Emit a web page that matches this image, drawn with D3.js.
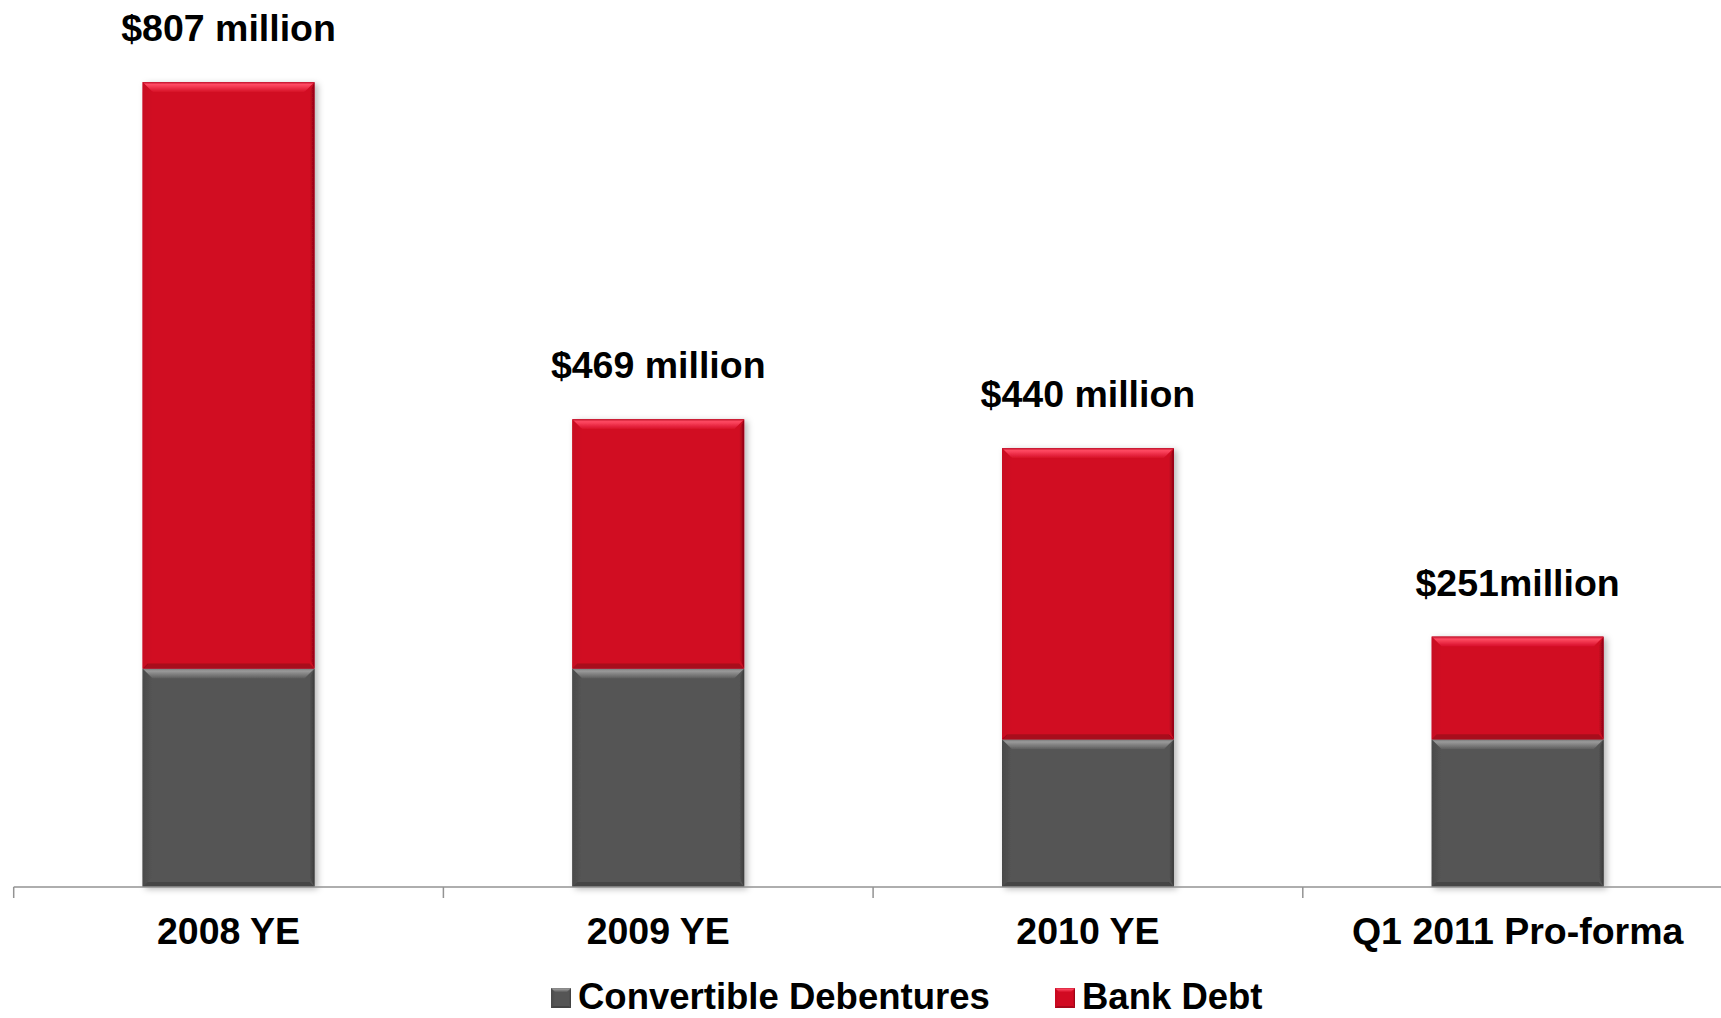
<!DOCTYPE html>
<html>
<head>
<meta charset="utf-8">
<script src="https://cdn.jsdelivr.net/npm/d3@7"></script>
<style>
  html, body { margin: 0; padding: 0; background: #ffffff; }
  svg { display: block; font-family: "Liberation Sans", Arial, sans-serif; }
</style>
</head>
<body>
<svg id="chart" width="1721" height="1018"></svg>
<script>
// ---- data ----
const categories = ["2008 YE", "2009 YE", "2010 YE", "Q1 2011 Pro-forma"];
const convertibleDebentures = [219, 219, 148, 148];
const bankDebt = [588, 250, 292, 103];
const totalLabels = ["$807 million", "$469 million", "$440 million", "$251million"];
const seriesNames = ["Convertible Debentures", "Bank Debt"];

// ---- layout ----
const W = 1721, H = 1018;
const axisY = 887;
const plotLeft = 13.7, step = 429.7;
const svg = d3.select("#chart");

const x = d3.scaleBand().domain(categories).range([plotLeft, plotLeft + step * categories.length]).paddingInner(0).paddingOuter(0);
const y = d3.scaleLinear().domain([0, 807]).range([axisY, 82]);
const barW = x.bandwidth() * 0.4;

const palette = {
  grey: { base: "#555555", topA: "#9a9a9a", topB: "#5c5c5c", side: "#4a4a4a", right: "#3c3c3c", bottom: "#444444" },
  red:  { base: "#d10a22", topA: "#ff4a63", topB: "#d60e27", side: "#c70820", right: "#8e0414", bottom: "#a8071b" }
};

const defs = svg.append("defs");
const f = defs.append("filter").attr("id", "shadow").attr("x", "-10%").attr("y", "-10%").attr("width", "130%").attr("height", "130%");
f.append("feDropShadow").attr("dx", 3).attr("dy", 2).attr("stdDeviation", 3).attr("flood-color", "#000").attr("flood-opacity", 0.28);

Object.entries(palette).forEach(([k, c]) => {
  const g = defs.append("linearGradient").attr("id", "top-" + k).attr("x1", 0).attr("y1", 0).attr("x2", 0).attr("y2", 1);
  g.append("stop").attr("offset", "0%").attr("stop-color", k === "red" ? "#c0122c" : "#777");
  g.append("stop").attr("offset", "25%").attr("stop-color", c.topA);
  g.append("stop").attr("offset", "100%").attr("stop-color", c.topB);
  const r = defs.append("linearGradient").attr("id", "right-" + k).attr("x1", 0).attr("y1", 0).attr("x2", 1).attr("y2", 0);
  r.append("stop").attr("offset", "0%").attr("stop-color", c.base);
  r.append("stop").attr("offset", "100%").attr("stop-color", c.right);
  const l = defs.append("linearGradient").attr("id", "left-" + k).attr("x1", 0).attr("y1", 0).attr("x2", 1).attr("y2", 0);
  l.append("stop").attr("offset", "0%").attr("stop-color", c.side);
  l.append("stop").attr("offset", "100%").attr("stop-color", c.base);
});

function bevelRect(g, x0, y0, w, h, b, key) {
  const c = palette[key];
  const bb = Math.min(b, h / 2, w / 2);
  g.append("rect").attr("x", x0).attr("y", y0).attr("width", w).attr("height", h).attr("fill", c.base);
  const poly = (pts, fill) => g.append("polygon").attr("points", pts.map(p => p.join(",")).join(" ")).attr("fill", fill);
  poly([[x0, y0], [x0 + bb, y0 + bb], [x0 + bb, y0 + h - bb], [x0, y0 + h]], `url(#left-${key})`);
  poly([[x0 + w, y0], [x0 + w - bb * 0.5, y0 + bb], [x0 + w - bb * 0.5, y0 + h - bb], [x0 + w, y0 + h]], `url(#right-${key})`);
  poly([[x0, y0 + h], [x0 + w, y0 + h], [x0 + w - bb * 0.5, y0 + h - bb * 0.5], [x0 + bb * 0.5, y0 + h - bb * 0.5]], c.bottom);
  poly([[x0, y0], [x0 + w, y0], [x0 + w - bb, y0 + bb], [x0 + bb, y0 + bb]], `url(#top-${key})`);
}

// ---- bars ----
categories.forEach((cat, i) => {
  const cx = x(cat) + x.bandwidth() / 2;
  const x0 = cx - barW / 2;
  const g = svg.append("g").attr("filter", "url(#shadow)");
  const c0 = convertibleDebentures[i], c1 = c0 + bankDebt[i];
  bevelRect(g, x0, y(c0), barW, y(0) - y(c0), 10, "grey");
  bevelRect(g, x0, y(c1), barW, y(c0) - y(c1), 10, "red");
  svg.append("text").attr("x", cx).attr("y", y(c1) - 41)
    .attr("text-anchor", "middle").attr("font-weight", "bold").attr("font-size", 37.5).attr("fill", "#000")
    .text(totalLabels[i]);
});

// ---- axis ----
const axisG = svg.append("g");
axisG.append("line").attr("x1", plotLeft).attr("x2", W).attr("y1", axisY).attr("y2", axisY)
  .attr("stroke", "#939393").attr("stroke-width", 1.5);
categories.map(c => x(c)).forEach(bx => {
  axisG.append("line").attr("x1", bx).attr("x2", bx).attr("y1", axisY).attr("y2", axisY + 11)
    .attr("stroke", "#939393").attr("stroke-width", 1.5);
});
categories.forEach(cat => {
  svg.append("text").attr("x", x(cat) + x.bandwidth() / 2).attr("y", 944)
    .attr("text-anchor", "middle").attr("font-weight", "bold").attr("font-size", 37.5).attr("fill", "#000")
    .text(cat);
});

// ---- legend ----
const legendItems = [
  { name: seriesNames[0], key: "grey", mx: 551 },
  { name: seriesNames[1], key: "red", mx: 1055 }
];
legendItems.forEach(it => {
  const g = svg.append("g");
  bevelRect(g, it.mx, 988, 20, 20, 4, it.key);
  svg.append("text").attr("x", it.mx + 27).attr("y", 1009)
    .attr("font-weight", "bold").attr("font-size", 36.5).attr("fill", "#000")
    .text(it.name);
});
</script>
</body>
</html>
